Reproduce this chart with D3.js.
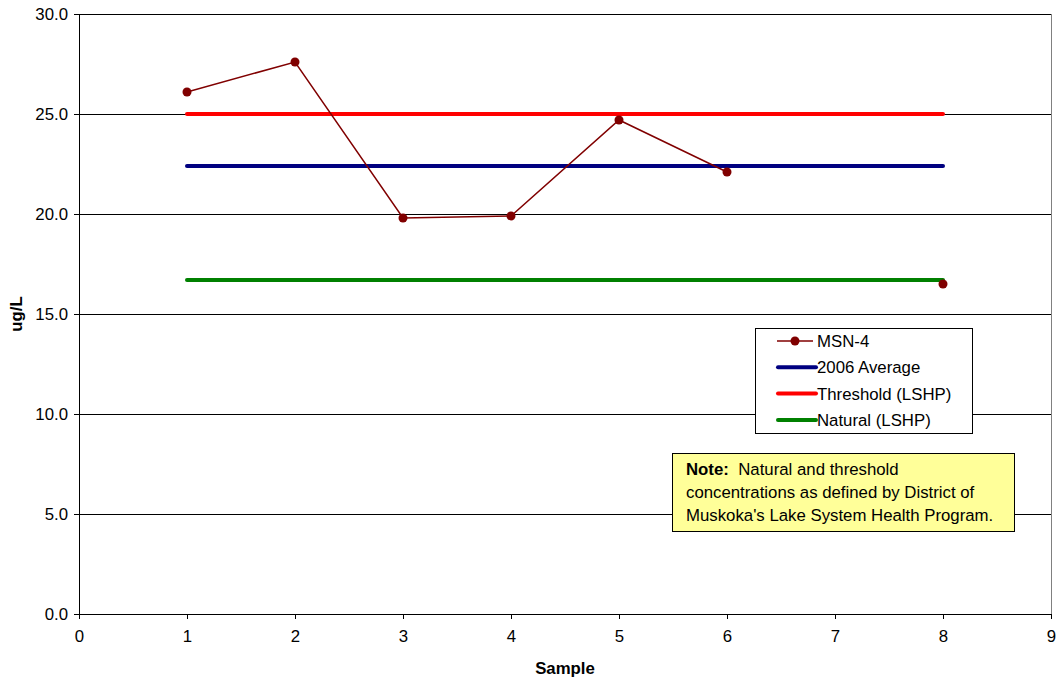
<!DOCTYPE html>
<html><head><meta charset="utf-8">
<script src="https://cdn.jsdelivr.net/npm/d3@7"></script>
<style>body{margin:0;background:#fff;} text{font-family:Arial,"Liberation Sans",sans-serif;}</style>
</head><body>
<svg id="c" width="1058" height="683"></svg>
<script>
const samples = [1,2,3,4,5,6,7,8];
const msn4 = [26.1,27.6,19.8,19.9,24.7,22.1,null,16.5];
const averageX = [1,8];
const average2006 = 22.4;
const thresholdLSHP = 25.0;
const naturalLSHP = 16.7;
const xTicks = [0,1,2,3,4,5,6,7,8,9];
const yTicks = [0,5,10,15,20,25,30];
const legendLabels = ["MSN-4","2006 Average","Threshold (LSHP)","Natural (LSHP)"];
const colors = {msn:"#800000", avg:"#000080", thr:"#FF0000", nat:"#008000"};
const FS = "16.8px";

const svg = d3.select("#c");
const L=79, R=1051, T=14, B=614;
const x = d3.scaleLinear().domain([0,9]).range([L,R]);
const y = d3.scaleLinear().domain([0,30]).range([B,T]);

// gridlines
svg.append("g").selectAll("line").data(yTicks.filter(d=>d>0)).join("line")
  .attr("x1",L).attr("x2",R).attr("y1",d=>y(d)).attr("y2",d=>y(d))
  .attr("stroke","#000").attr("stroke-width",1).attr("shape-rendering","crispEdges");
// right border
svg.append("line").attr("x1",R).attr("x2",R).attr("y1",T).attr("y2",B)
  .attr("stroke","#808080").attr("shape-rendering","crispEdges");

// axes
const xa = svg.append("g").attr("transform",`translate(0,${B})`)
  .call(d3.axisBottom(x).tickValues(xTicks).tickFormat(d3.format("d")).tickSize(5).tickSizeOuter(0));
const ya = svg.append("g").attr("transform",`translate(${L},0)`)
  .call(d3.axisLeft(y).tickValues(yTicks).tickFormat(d3.format(".1f")).tickSize(5).tickSizeOuter(0));
[xa,ya].forEach(a=>{
  a.selectAll("path,line").attr("stroke","#000").attr("shape-rendering","crispEdges");
  a.selectAll("text").attr("font-size",FS).attr("fill","#000");
});
xa.selectAll("text").attr("dy","1.2em");
ya.selectAll("text").attr("dx","-3px");

// reference lines
const ref = [[average2006,colors.avg],[thresholdLSHP,colors.thr],[naturalLSHP,colors.nat]];
svg.append("g").selectAll("line").data(ref).join("line")
  .attr("x1",x(averageX[0])).attr("x2",x(averageX[1]))
  .attr("y1",d=>y(d[0])).attr("y2",d=>y(d[0]))
  .attr("stroke",d=>d[1]).attr("stroke-width",4).attr("stroke-linecap","round");

// MSN-4 line
const pts = samples.map((s,i)=>({x:s,y:msn4[i]}));
svg.append("path").datum(pts)
  .attr("d",d3.line().defined(d=>d.y!=null).x(d=>x(d.x)).y(d=>y(d.y)))
  .attr("fill","none").attr("stroke",colors.msn).attr("stroke-width",1.5);
svg.append("g").selectAll("circle").data(pts.filter(d=>d.y!=null)).join("circle")
  .attr("cx",d=>x(d.x)).attr("cy",d=>y(d.y)).attr("r",4.5).attr("fill",colors.msn);

// axis titles
svg.append("text").attr("x",(L+R)/2).attr("y",674).attr("text-anchor","middle")
  .attr("font-size",FS).attr("font-weight","bold").text("Sample");
svg.append("text").attr("transform",`translate(22,${(T+B)/2}) rotate(-90)`).attr("text-anchor","middle")
  .attr("font-size",FS).attr("font-weight","bold").text("ug/L");

// legend
const lg = svg.append("g").attr("transform","translate(755,328)");
lg.append("rect").attr("x",0.5).attr("y",0.5).attr("width",217).attr("height",105)
  .attr("fill","#fff").attr("stroke","#000");
const lcol = [colors.msn,colors.avg,colors.thr,colors.nat];
legendLabels.forEach((t,i)=>{
  const yy = 13 + i*26.3;
  lg.append("line").attr("x1",i==0?22:23).attr("x2",i==0?58:61).attr("y1",yy).attr("y2",yy)
    .attr("stroke",lcol[i]).attr("stroke-width",i==0?1.5:4).attr("stroke-linecap",i==0?"butt":"round");
  if(i==0) lg.append("circle").attr("cx",40).attr("cy",yy).attr("r",4.5).attr("fill",colors.msn);
  lg.append("text").attr("x",62).attr("y",yy+6).attr("font-size",FS).text(t);
});

// note box
const nb = svg.append("g").attr("transform","translate(672,453)");
nb.append("rect").attr("x",0.5).attr("y",0.5).attr("width",342).attr("height",78)
  .attr("fill","#FFFF99").attr("stroke","#000");
const t1 = nb.append("text").attr("x",14).attr("y",22).attr("font-size",FS);
t1.append("tspan").attr("font-weight","bold").text("Note:");
t1.append("tspan").text("\u00a0 Natural and threshold");
nb.append("text").attr("x",14).attr("y",45).attr("font-size",FS).text("concentrations as defined by District of");
nb.append("text").attr("x",14).attr("y",68).attr("font-size",FS).text("Muskoka's Lake System Health Program.");
</script>
</body></html>
